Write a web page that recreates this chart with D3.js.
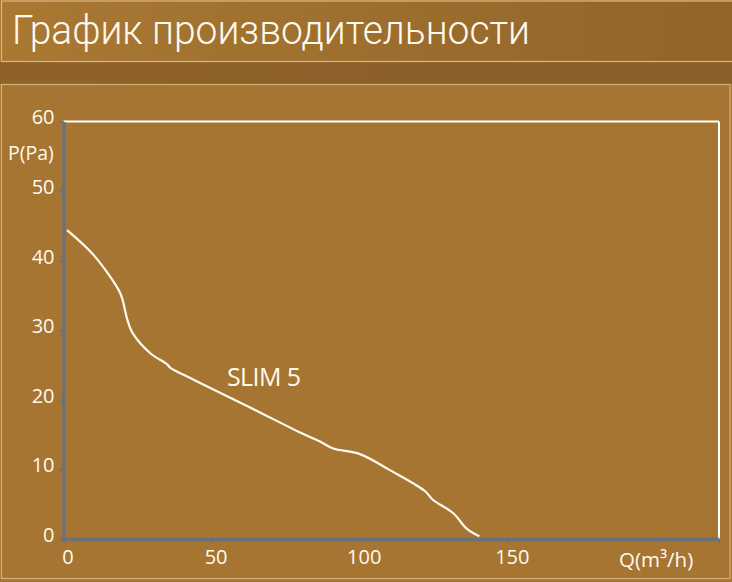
<!DOCTYPE html>
<html>
<head>
<meta charset="utf-8">
<script src="https://cdn.jsdelivr.net/npm/d3@7"></script>
<style>
  body { margin: 0; background: #a67531; }
  svg { display: block; }
  .axis text { font-family: "Open Sans", sans-serif; font-size: 20px; fill: #fffaf0; }
  .axis path, .axis line { stroke: #6c7078; }
</style>
</head>
<body>
<div id="chart"></div>
<script>
// chart values
var title = "График производительности";
var seriesName = "SLIM 5";
var flow = [1.2, 10.2, 18.6, 19.8, 21.5, 23.2, 29.3, 35.0, 36.1, 43.9, 63.0, 79.9, 86.6, 91.1, 100.1, 110.2, 122.0, 124.8, 131.6, 136.1, 140.4];
var pressure = [44.4, 40.8, 35.8, 34.6, 31.6, 29.7, 26.7, 25.1, 24.6, 22.9, 18.9, 15.3, 14.0, 13.0, 12.2, 9.9, 6.9, 5.6, 3.7, 1.5, 0.4];
var xTicks = [0, 50, 100, 150, 200];
var xLabels = ["0", "50", "100", "150", ""];
var yTicks = [0, 10, 20, 30, 40, 50, 60];
var xMax = 221.3;

var width = 732, height = 582;

var svg = d3.select("#chart")
            .append("svg")
            .attr("width", width)
            .attr("height", height);

var defs = svg.append("defs");
var g1 = defs.append("linearGradient").attr("id", "band");
g1.append("stop").attr("offset", "0%").attr("stop-color", "#a97933");
g1.append("stop").attr("offset", "100%").attr("stop-color", "#916428");
var g2 = defs.append("linearGradient").attr("id", "strip");
g2.append("stop").attr("offset", "0%").attr("stop-color", "#8e6229");
g2.append("stop").attr("offset", "100%").attr("stop-color", "#8a5f28");

//Background pieces
svg.append("rect").attr("x", 0).attr("y", 0).attr("width", width).attr("height", height)
   .attr("fill", "#a67531");
svg.append("rect").attr("x", 0).attr("y", 62).attr("width", width).attr("height", 22)
   .attr("fill", "url(#strip)");
svg.append("rect").attr("x", 1.5).attr("y", 1).attr("width", 732).attr("height", 60.5)
   .attr("fill", "url(#band)")
   .attr("stroke", "#d8b983").attr("stroke-width", 1.2);
svg.append("rect").attr("x", 1.5).attr("y", 84.5).attr("width", 728.5).attr("height", 494)
   .attr("fill", "#a67531")
   .attr("stroke", "#d3b27c").attr("stroke-width", 1.2);

//Title
svg.append("text")
   .attr("x", 12)
   .attr("y", 44)
   .attr("textLength", 518)
   .attr("lengthAdjust", "spacingAndGlyphs")
   .style("font-family", "Roboto, sans-serif")
   .style("font-weight", 300)
   .style("font-size", "40px")
   .style("fill", "#fffaf0")
   .text(title);

//Scales
var x = d3.scaleLinear().domain([0, xMax]).range([63.5, 719]);
var y = d3.scaleLinear().domain([0, 60]).range([539, 121.5]);

//White frame top / right
svg.append("line")
   .attr("x1", x(0)).attr("x2", x(xMax))
   .attr("y1", y(60)).attr("y2", y(60))
   .attr("stroke", "#ffffff").attr("stroke-width", 2);
svg.append("line")
   .attr("x1", x(xMax)).attr("x2", x(xMax))
   .attr("y1", y(60)).attr("y2", y(0))
   .attr("stroke", "#ffffff").attr("stroke-width", 2);

//Axes
var yAxis = svg.append("g")
   .attr("class", "axis")
   .attr("transform", "translate(" + x(0) + ",0)")
   .call(d3.axisLeft(y).tickValues(yTicks).tickSize(4).tickSizeOuter(0).tickPadding(5));
yAxis.selectAll("text").attr("dy", "0.12em");

var xAxis = svg.append("g")
   .attr("class", "axis")
   .attr("transform", "translate(0," + y(0) + ")")
   .call(d3.axisBottom(x)
           .tickValues(xTicks.concat([xMax]))
           .tickSize(4).tickSizeOuter(0).tickPadding(5)
           .tickFormat(function(d, i) { return xLabels[i] || ""; }));
xAxis.selectAll("text").attr("dx", 4).attr("dy", "0.8em");

svg.selectAll(".axis path").attr("stroke-width", 3.5);
svg.selectAll(".axis line").attr("stroke-width", 2);

//Axis titles
svg.append("text")
   .attr("x", 8).attr("y", 160)
   .style("font-family", "Open Sans, sans-serif").style("font-size", "19.5px")
   .style("fill", "#fffaf0")
   .text("P(Pa)");
svg.append("text")
   .attr("x", 619).attr("y", 567)
   .style("font-family", "Open Sans, sans-serif").style("font-size", "20.5px")
   .style("fill", "#fffaf0")
   .text("Q(m³/h)");

//Curve
var points = flow.map(function(d, i) { return [d, pressure[i]]; });
var line = d3.line()
   .x(function(d) { return x(d[0]); })
   .y(function(d) { return y(d[1]); })
   .curve(d3.curveCatmullRom.alpha(0.5));

svg.append("path")
   .datum(points)
   .attr("d", line)
   .attr("fill", "none")
   .attr("stroke", "#fffaf0")
   .attr("stroke-width", 2.2);

//Series label
svg.append("text")
   .attr("x", 227).attr("y", 386)
   .attr("textLength", 74)
   .style("font-family", "Open Sans, sans-serif").style("font-size", "25px")
   .style("fill", "#fffaf0")
   .text(seriesName);
</script>
</body>
</html>
